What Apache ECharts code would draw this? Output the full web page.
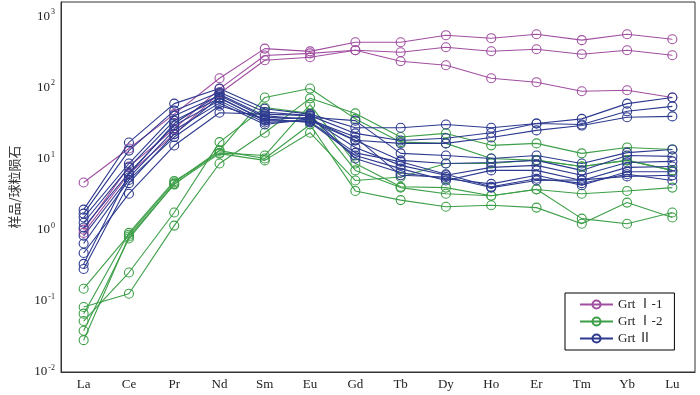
<!DOCTYPE html>
<html>
<head>
<meta charset="utf-8">
<script src="https://cdn.jsdelivr.net/npm/echarts@6/dist/echarts.min.js"></script>
<style>
html, body { margin: 0; padding: 0; background: #fff; }
#chart { width: 700px; height: 395px; }
</style>
</head>
<body>
<div id="chart"></div>
<script>
var elements = ['La', 'Ce', 'Pr', 'Nd', 'Sm', 'Eu', 'Gd', 'Tb', 'Dy', 'Ho', 'Er', 'Tm', 'Yb', 'Lu'];

// Grt I-1
var p1 = [4.6, 13.8, 42, 134, 350, 320, 430, 430, 540, 490, 557, 460, 557, 474];
var p2 = [1.0, 7.7, 26, 95, 280, 300, 332, 311, 366, 321, 343, 292, 332, 282];
var p3 = [0.9, 6.1, 22, 82, 240, 265, 332, 232, 204, 134, 118, 88, 91, 72];

// Grt I-2
var g1 = [0.148, 0.85, 4.6, 13, 72, 96, 36, 17, 16.3, 10, 9.4, 7.7, 9.4, 6.8];
var g2 = [0.082, 0.126, 1.14, 8.5, 23, 70, 43, 20, 22.5, 15.3, 16.3, 11.8, 14.3, 13.4];
var g3 = [0.066, 0.9, 4.8, 12, 11, 57, 8.5, 4.0, 3.9, 3.0, 3.66, 3.2, 3.5, 3.9];
var g4 = [0.052, 0.25, 1.74, 17, 52, 43, 6.8, 3.9, 3.2, 3.0, 3.7, 1.43, 1.21, 1.74];
var g5 = [0.038, 0.75, 4.4, 11.7, 9.4, 23, 4.9, 5.5, 8.5, 8.5, 9.5, 7.7, 9.4, 6.8];
var g6 = [0.028, 0.8, 4.3, 12.9, 10, 30, 3.5, 2.6, 2.1, 2.2, 2.04, 1.21, 2.4, 1.48];

// Grt II
var b1 = [1.91, 16.8, 59, 96, 50, 42, 27, 27, 30, 27, 31, 36, 59, 72];
var b2 = [1.68, 12.9, 47, 85, 45, 40, 22.5, 17.9, 19.2, 23, 31, 30, 46, 54];
var b3 = [1.48, 8.5, 40, 77, 38, 36, 18, 16.3, 16.3, 19.7, 24.8, 29, 38, 39];
var b4 = [1.25, 7.5, 34, 70, 35, 38, 34, 11.8, 11, 10, 11, 8.5, 12.1, 13.4];
var b5 = [1.07, 6.3, 29, 65, 32, 34, 17.9, 9.4, 8.5, 8.8, 9.4, 6.8, 11, 10.7];
var b6 = [0.82, 5.4, 25, 60, 30, 36, 14.3, 8.0, 5.8, 7.5, 8.0, 5.8, 8.8, 9.1];
var b7 = [0.64, 5.0, 20, 55, 36, 32, 11, 7.2, 4.9, 6.8, 6.8, 4.9, 7.5, 7.7];
var b8 = [0.47, 3.2, 15.2, 44, 42, 40, 10, 6.3, 5.2, 4.4, 5.8, 4.2, 6.5, 6.5];
var b9 = [0.33, 6.0, 31, 80, 40, 35, 20, 5.8, 5.5, 3.9, 4.9, 5.0, 5.6, 5.8];
var b10 = [0.28, 4.5, 22, 72, 34, 33, 12, 9.0, 6.0, 4.0, 5.2, 4.5, 6.0, 4.9];

var groups = [
    { name: 'Grt Ⅰ-1', color: '#a04fa0', lines: [p1, p2, p3] },
    { name: 'Grt Ⅰ-2', color: '#3d9f48', lines: [g1, g2, g3, g4, g5, g6] },
    { name: 'Grt Ⅱ', color: '#2d3a8f', lines: [b1, b2, b3, b4, b5, b6, b7, b8, b9, b10] }
];

var serif = "'Liberation Serif', 'Noto Sans CJK SC', serif";

var series = [];
groups.forEach(function (grp) {
    grp.lines.forEach(function (vals) {
        series.push({
            name: grp.name,
            type: 'line',
            data: vals,
            symbol: 'circle',
            symbolSize: 9,
            color: grp.color,
            lineStyle: { color: grp.color, width: 1.1 },
            itemStyle: { color: 'rgba(255,255,255,0)', borderColor: grp.color, borderWidth: 1.1 }
        });
    });
});

var myChart = echarts.init(document.getElementById('chart'));
myChart.setOption({
    animation: false,
    grid: { left: 61, right: 5, top: 2, bottom: 23, show: true, borderColor: '#333', borderWidth: 1 },
    legend: {
        data: groups.map(function (g) { return g.name; }),
        orient: 'vertical',
        left: 565,
        top: 293,
        padding: [5, 12, 5, 14],
        itemWidth: 33,
        itemHeight: 10,
        itemGap: 4,
        borderColor: '#000',
        borderWidth: 1,
        backgroundColor: '#fff',
        textStyle: { fontFamily: serif, fontSize: 13, color: '#222' }
    },
    xAxis: {
        type: 'category',
        data: elements,
        boundaryGap: true,
        axisLine: { lineStyle: { color: '#333' } },
        axisTick: { inside: true, length: 5, lineStyle: { color: '#333' } },
        axisLabel: { fontFamily: serif, fontSize: 13, color: '#222', margin: 6 }
    },
    yAxis: {
        type: 'log',
        logBase: 10,
        min: 0.01,
        max: 1580,
        name: '样品/球粒陨石',
        nameLocation: 'middle',
        nameGap: 40,
        nameTextStyle: { fontFamily: "'Noto Sans CJK SC'", fontSize: 13, color: '#333' },
        axisLine: { show: true, lineStyle: { color: '#333' } },
        axisTick: { inside: true, length: 6, lineStyle: { color: '#333' } },
        splitLine: { show: false },
        axisLabel: {
            fontFamily: serif,
            fontSize: 13,
            color: '#222',
            margin: 6,
            formatter: function (v) {
                var e = Math.log(v) / Math.LN10;
                var r = Math.round(e);
                if (Math.abs(e - r) > 0.01) return '';
                return '10{sup|' + (r < 0 ? '-' + (-r) : r) + '}';
            },
            rich: {
                sup: { fontFamily: serif, fontSize: 8, color: '#222', verticalAlign: 'top', padding: [0, 0, 8, 1] }
            }
        }
    },
    series: series
});
</script>
</body>
</html>
